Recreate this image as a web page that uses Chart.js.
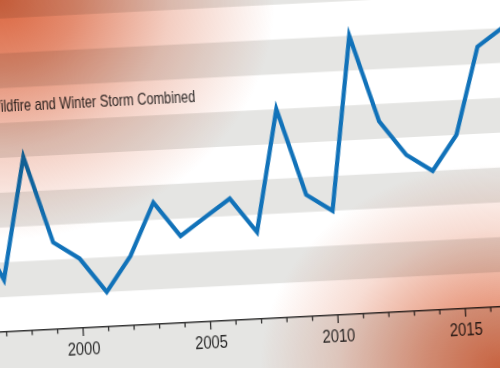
<!DOCTYPE html>
<html>
<head>
<meta charset="utf-8">
<script src="https://cdn.jsdelivr.net/npm/chart.js@4.4.0/dist/chart.umd.min.js"></script>
<style>
    html, body { margin: 0; padding: 0; width: 500px; height: 368px; overflow: hidden; background: #e5e5e3; }
    #tilt { position: absolute; left: 0; top: 0; transform: rotate(-2.9deg); }
    #tilt canvas { display: block; }
    #glow {
        position: absolute; left: 0; top: 0; width: 500px; height: 368px;
        pointer-events: none; mix-blend-mode: multiply;
        background:
            radial-gradient(ellipse 275px 240px at 0 0, rgba(219,102,64,1) 0%, rgba(219,102,64,0.75) 28%, rgba(219,102,64,0.32) 62%, rgba(219,102,64,0) 100%),
            radial-gradient(ellipse 240px 205px at 100% 100%, rgba(222,110,72,1) 0%, rgba(222,110,72,0.68) 32%, rgba(222,110,72,0.24) 68%, rgba(222,110,72,0) 100%);
    }
</style>
</head>
<body>
<div id="tilt"><canvas id="lineChart"></canvas></div>
<div id="glow"></div>
<script>
// Data
const years = [1996, 1997, 1998, 1999, 2000, 2001, 2002, 2003, 2004, 2005, 2006,
               2007, 2008, 2009, 2010, 2011, 2012, 2013, 2014, 2015, 2016, 2017];
const events = [6, 3, 10, 5, 4, 2, 4, 7, 5, 6, 7, 5, 12, 7, 6, 16, 11, 9, 8, 10, 15, 16];
const labelledYears = [2000, 2005, 2010, 2015];
const seriesName = 'Wildfire and Winter Storm Combined';

// Layout of the tilted sheet
const PX_PER_YEAR = 25.51;
const PX_PER_UNIT = 17.4;
const X_MIN = 1994;
const W = 660;
const H = 500;
const ORIGIN = { x: 83.5, y: 327.5 };   // where 2000 / 0 lands on screen
const NAME_AT = { year: 1996.74, value: 12.65 };

const FONT = "'Liberation Sans', Arial, sans-serif";

// Grey / white bands behind everything
const stripes = {
    id: 'stripes',
    beforeDraw(chart) {
        const { ctx, scales: { y } } = chart;
        ctx.save();
        ctx.fillStyle = '#e5e5e3';
        ctx.fillRect(0, 0, chart.width, chart.height);
        ctx.fillStyle = '#ffffff';
        for (let v = 0; v < y.max; v += 4) {
            const top = y.getPixelForValue(v + 2);
            const bottom = y.getPixelForValue(v);
            ctx.fillRect(0, top, chart.width, bottom - top);
        }
        ctx.restore();
    }
};

// Year tick marks and labels, long ticks at labelled years
const yearAxis = {
    id: 'yearAxis',
    afterDraw(chart) {
        const { ctx, scales: { x, y } } = chart;
        const base = y.getPixelForValue(0);
        ctx.save();
        ctx.strokeStyle = '#333';
        ctx.lineWidth = 1.3;
        x.ticks.forEach(t => {
            const px = x.getPixelForValue(t.value);
            const major = labelledYears.includes(t.value);
            ctx.beginPath();
            ctx.moveTo(px, base);
            ctx.lineTo(px, base + (major ? 8 : 4.5));
            ctx.stroke();
            if (major) {
                // narrow print face: squeeze sideways
                ctx.save();
                ctx.translate(px, base + 22.5);
                ctx.scale(0.82, 1);
                ctx.font = '18px ' + FONT;
                ctx.fillStyle = '#2b2b2b';
                ctx.textAlign = 'center';
                ctx.textBaseline = 'middle';
                ctx.fillText(String(t.value), 0, 0);
                ctx.restore();
            }
        });
        ctx.restore();
    }
};

// Series name written on the sheet
const seriesTitle = {
    id: 'seriesTitle',
    afterDraw(chart) {
        const { ctx, scales: { x, y } } = chart;
        ctx.save();
        ctx.translate(x.getPixelForValue(NAME_AT.year), y.getPixelForValue(NAME_AT.value));
        ctx.scale(0.75, 1);
        ctx.font = '17px ' + FONT;
        ctx.fillStyle = '#2e2e2e';
        ctx.textBaseline = 'alphabetic';
        ctx.fillText(seriesName, 0, 0);
        ctx.restore();
    }
};

const canvas = document.getElementById('lineChart');
canvas.width = W;
canvas.height = H;

const chart = new Chart(canvas.getContext('2d'), {
    type: 'line',
    data: {
        datasets: [{
            label: seriesName,
            data: years.map((yr, i) => ({ x: yr, y: events[i] })),
            borderColor: '#1172b9',
            borderWidth: 4.2,
            borderJoinStyle: 'miter',
            pointRadius: 0,
            tension: 0,
            fill: false
        }]
    },
    options: {
        responsive: false,
        animation: false,
        layout: { autoPadding: false, padding: { left: 0, right: 0, top: 0, bottom: 90 } },
        plugins: { legend: { display: false }, tooltip: { enabled: false } },
        scales: {
            x: {
                type: 'linear',
                min: X_MIN,
                max: 2020,
                grid: { display: false, drawTicks: false },
                border: { display: true, color: '#333', width: 1.4 },
                ticks: { display: false, stepSize: 1, autoSkip: false }
            },
            y: {
                display: false,
                min: 0,
                max: 22
            }
        }
    },
    plugins: [stripes, yearAxis, seriesTitle]
});

// one year = PX_PER_YEAR wide, one unit = PX_PER_UNIT tall
chart.options.scales.x.max = X_MIN + chart.chartArea.width / PX_PER_YEAR;
chart.options.scales.y.max = chart.chartArea.height / PX_PER_UNIT;
chart.update();

// pin 2000 / 0 to its place on screen and tilt around it
const ox = chart.scales.x.getPixelForValue(2000);
const oy = chart.scales.y.getPixelForValue(0);
const tilt = document.getElementById('tilt');
tilt.style.left = (ORIGIN.x - ox) + 'px';
tilt.style.top = (ORIGIN.y - oy) + 'px';
tilt.style.transformOrigin = ox + 'px ' + oy + 'px';
</script>
</body>
</html>
